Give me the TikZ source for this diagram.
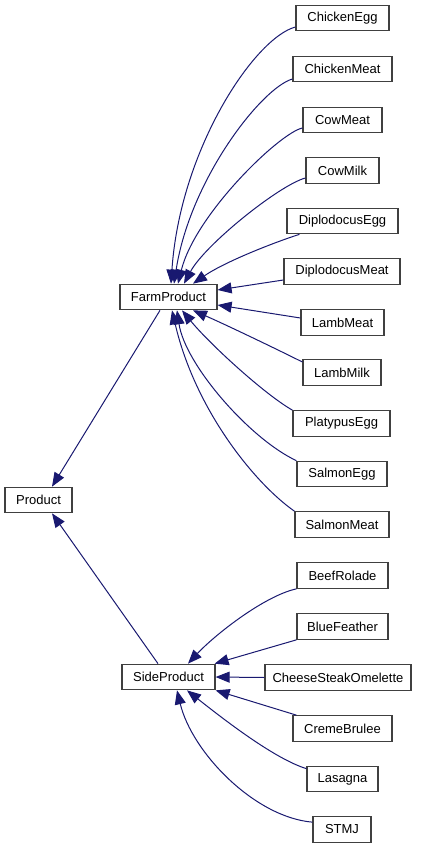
\documentclass[tikz,border=0pt]{standalone}
\usepackage{fontspec}
\setmainfont{Liberation Sans}
\usetikzlibrary{arrows.meta}
\definecolor{edgeblue}{HTML}{191970}
\begin{document}
\begin{tikzpicture}[x=1pt,y=-1pt,
  cls/.style={draw=black!75, line width=1.2pt, fill=white, minimum height=25.5pt,
    inner sep=0pt, font=\fontsize{13}{15}\selectfont},
  inh/.style={draw=edgeblue, line width=1pt, -{Triangle[length=14pt,width=11pt]}}]
\useasboundingbox (0,0) rectangle (425,848);
% base classes
\node[cls, minimum width=67pt] (product) at (38.5,500) {Product};
\node[cls, minimum width=97pt] (farm) at (168.5,297) {FarmProduct};
\node[cls, minimum width=93pt] (side) at (168.5,677) {SideProduct};
% farm products
\node[cls, minimum width=93pt]  (ce)  at (342.5,18)    {ChickenEgg};
\node[cls, minimum width=99pt]  (cm)  at (342.5,69)    {ChickenMeat};
\node[cls, minimum width=79pt]  (cw)  at (342.5,120)   {CowMeat};
\node[cls, minimum width=73pt]  (ck)  at (342.5,170.5) {CowMilk};
\node[cls, minimum width=111pt] (de)  at (342.5,221)   {DiplodocusEgg};
\node[cls, minimum width=116pt] (dm)  at (342,271.5)   {DiplodocusMeat};
\node[cls, minimum width=83pt]  (lme) at (342.5,322.5) {LambMeat};
\node[cls, minimum width=78pt]  (lmi) at (342,372.5)   {LambMilk};
\node[cls, minimum width=97pt]  (pe)  at (341.5,423.5) {PlatypusEgg};
\node[cls, minimum width=90pt]  (se)  at (342,474)     {SalmonEgg};
\node[cls, minimum width=94pt]  (sm)  at (342,524.5)   {SalmonMeat};
% side products
\node[cls, minimum width=91pt]  (br)  at (342.5,575.5) {BeefRolade};
\node[cls, minimum width=91pt]  (bf)  at (342.5,626.5) {BlueFeather};
\node[cls, minimum width=146pt] (cso) at (338,677.5)   {CheeseSteakOmelette};
\node[cls, minimum width=99pt]  (cb)  at (342.5,728.5) {CremeBrulee};
\node[cls, minimum width=71pt]  (la)  at (342.5,779)   {Lasagna};
\node[cls, minimum width=58pt]  (st)  at (342,829.5)   {STMJ};
% inheritance to Product
\draw[inh] ([xshift=-8.5pt]farm.south) -- ([xshift=13.5pt]product.north);
\draw[inh] ([xshift=-10.5pt]side.north) -- ([xshift=13.5pt]product.south);
% farm children
\draw[inh] ([yshift=-9pt]ce.west) .. controls +(-41,11) and +(9,-134) .. ([xshift=2.5pt]farm.north);
\draw[inh] ([yshift=-10pt]cm.west) .. controls +(-31,9) and +(16,-104) .. ([xshift=5.5pt]farm.north);
\draw[inh] ([yshift=-8pt]cw.west) .. controls +(-23,5) and +(17,-69) .. ([xshift=9.5pt]farm.north);
\draw[inh] ([yshift=-7.5pt]ck.west) .. controls +(-26,7) and +(21,-39) .. ([xshift=15.5pt]farm.north);
\draw[inh] ([xshift=13pt]de.south west) .. controls +(-25,8) and +(32,-22) .. ([xshift=24.5pt]farm.north);
\draw[inh] ([yshift=-8.5pt]dm.west) -- ([yshift=7pt]farm.east);
\draw[inh] ([yshift=4.5pt]lme.west) -- ([yshift=-8pt]farm.east);
\draw[inh] ([yshift=10.5pt]lmi.west) .. controls +(-28,-14) and +(32,14) .. ([xshift=24.5pt]farm.south);
\draw[inh] (pe.north west) .. controls +(-28,-16) and +(28,34) .. ([xshift=13.5pt]farm.south);
\draw[inh] (se.north west) .. controls +(-47,-22) and +(8,54) .. ([xshift=8.5pt]farm.south);
\draw[inh] (sm.north west) .. controls +(-40,-28) and +(23,99) .. ([xshift=3.5pt]farm.south);
% side children
\draw[inh] (br.south west) .. controls +(-32,7) and +(27,-29) .. ([xshift=19.5pt]side.north);
\draw[inh] (bf.south west) -- ([xshift=-1pt]side.north east);
\draw[inh] (cso.west) -- (side.east);
\draw[inh] ([xshift=4pt]cb.north west) -- (side.south east);
\draw[inh] ([yshift=-3pt]la.north west) .. controls +(-32,-10) and +(38,30) .. ([xshift=18.5pt]side.south);
\draw[inh] ([yshift=-6pt]st.north west) .. controls +(-58,-5) and +(15,62) .. ([xshift=8.5pt]side.south);
\end{tikzpicture}
\end{document}
